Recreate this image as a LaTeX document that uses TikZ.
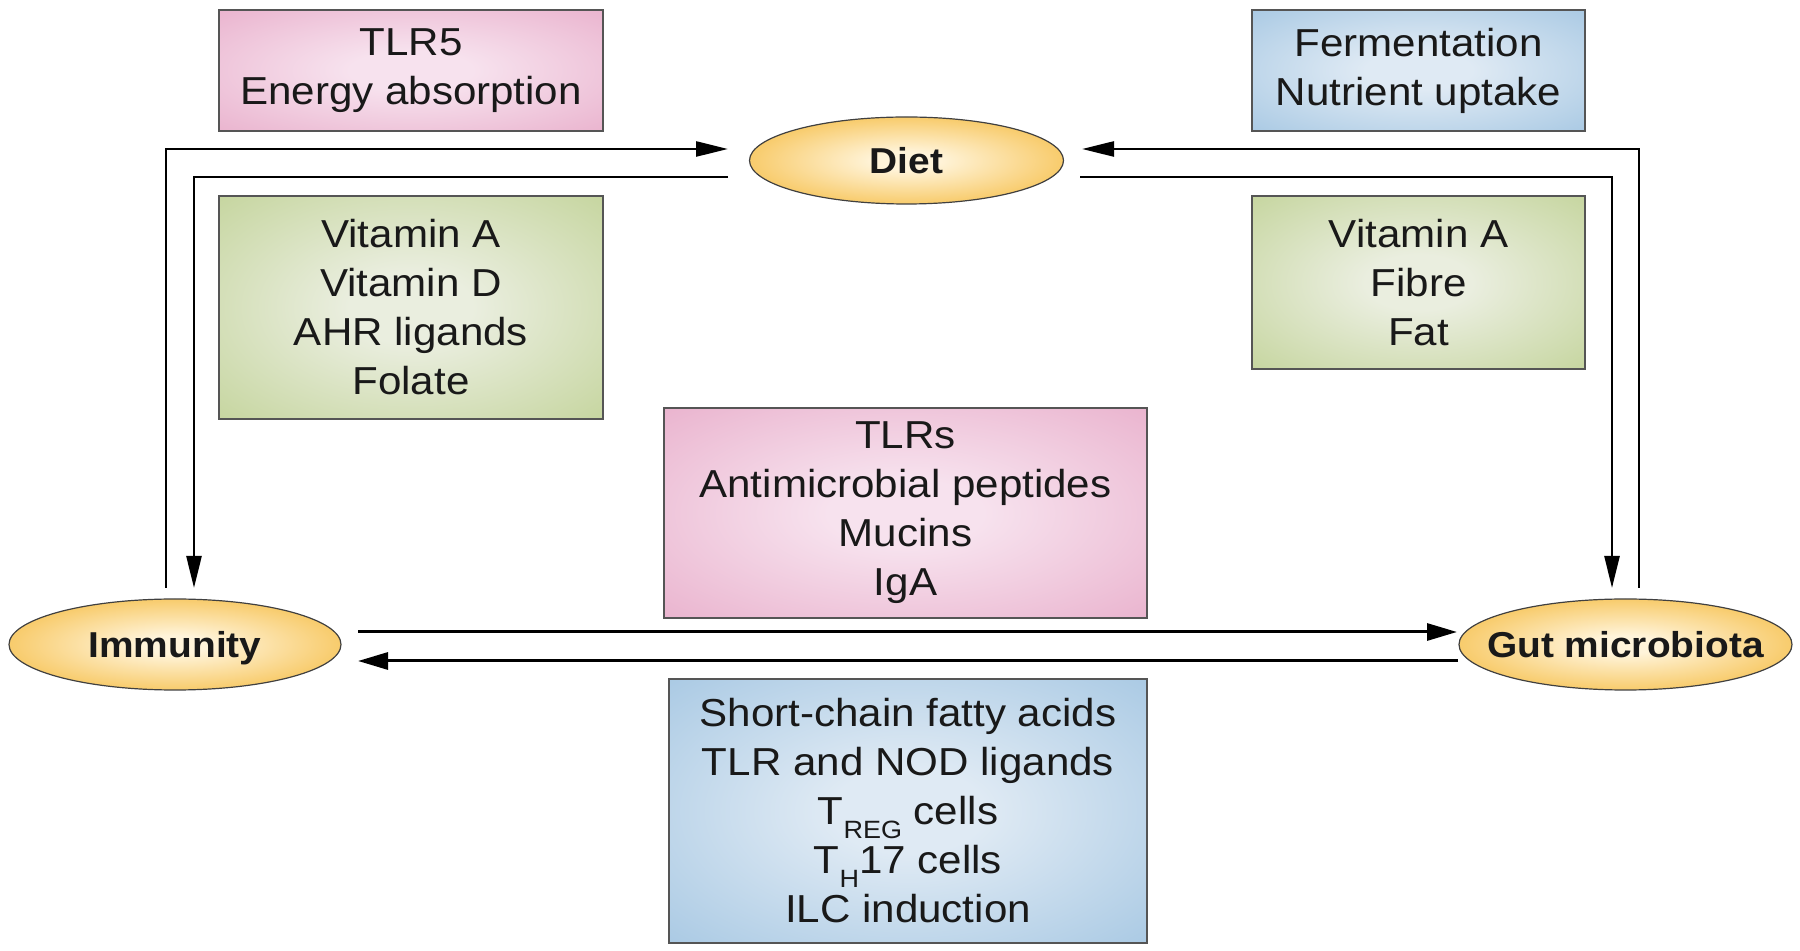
\documentclass[tikz,border=0pt]{standalone}
\usepackage{fontspec}
\setmainfont{Liberation Sans}[FakeStretch=1.08]
\usetikzlibrary{arrows.meta,shapes.geometric}
\definecolor{pinkin}{HTML}{F7E2EE}
\definecolor{pinkout}{HTML}{E6A6C5}
\definecolor{greenin}{HTML}{EAEEDF}
\definecolor{greenout}{HTML}{BBCE8C}
\definecolor{bluein}{HTML}{DFEAF4}
\definecolor{blueout}{HTML}{9AC0DF}
\definecolor{ellin}{HTML}{FFF4DA}
\definecolor{ellout}{HTML}{F4B52F}
\definecolor{edge}{HTML}{555555}
\pgfdeclareradialshading{pinkshade}{\pgfpoint{0bp}{0bp}}{color(0bp)=(pinkin); color(8bp)=(pinkin); color(44bp)=(pinkout); color(100bp)=(pinkout)}
\pgfdeclareradialshading{greenshade}{\pgfpoint{0bp}{0bp}}{color(0bp)=(greenin); color(8bp)=(greenin); color(44bp)=(greenout); color(100bp)=(greenout)}
\pgfdeclareradialshading{blueshade}{\pgfpoint{0bp}{0bp}}{color(0bp)=(bluein); color(8bp)=(bluein); color(44bp)=(blueout); color(100bp)=(blueout)}
\pgfdeclareradialshading{ellshade}{\pgfpoint{0bp}{0bp}}{color(0bp)=(ellin); color(5bp)=(ellin); color(36bp)=(ellout); color(100bp)=(ellout)}
\newcommand{\lowsub}[1]{\raisebox{-7pt}{\fontsize{12.5}{14}\selectfont #1}}
\begin{document}
\begin{tikzpicture}[x=0.5pt,y=-0.5pt,
  box/.style={rectangle, draw=edge, line width=0.75pt, inner sep=0pt, align=center,
    font=\fontsize{19.5}{24.5}\selectfont, text=black!90},
  pinkbox/.style={box, shading=pinkshade},
  greenbox/.style={box, shading=greenshade},
  bluebox/.style={box, shading=blueshade},
  oval/.style={ellipse, draw=black!75, line width=0.6pt, inner sep=0pt, shading=ellshade,
    text depth=0pt, font=\bfseries\fontsize{18}{20}\selectfont, text=black!90},
  arr/.style={line width=1.25pt, -{Triangle[length=16pt,width=7.5pt]}},
  arrh/.style={line width=1.5pt, -{Triangle[length=15pt,width=8.5pt]}}]
\useasboundingbox (0,0) rectangle (1800,951);

% nodes
\node[pinkbox, minimum width=192pt, minimum height=60.5pt] (tlr5) at (411,70.5) {TLR5\\Energy absorption};
\node[bluebox, minimum width=166.5pt, minimum height=60.5pt] (ferm) at (1418.5,70.5) {Fermentation\\Nutrient uptake};
\node[greenbox, minimum width=192pt, minimum height=111.5pt] (vitL) at (411,307.5) {Vitamin A\\Vitamin D\\AHR ligands\\Folate};
\node[greenbox, minimum width=166.5pt, minimum height=86.5pt] (vitR) at (1418.5,282.5) {Vitamin A\\Fibre\\Fat};
\node[pinkbox, minimum width=241.5pt, minimum height=105pt] (tlrs) at (905.5,513) {TLRs\\Antimicrobial peptides\\Mucins\\IgA};
\node[bluebox, minimum width=239pt, minimum height=132pt] (scfa) at (908,811) {Short-chain fatty acids\\TLR and NOD ligands\\T\lowsub{REG} cells\\T\lowsub{H}17 cells\\ILC induction};

\node[oval, minimum width=157pt, minimum height=43.5pt] (diet) at (906.5,160.5) {\makebox[0pt]{Diet}};
\node[oval, minimum width=166pt, minimum height=45.5pt] (imm) at (175,644.5) {\makebox[0pt]{Immunity}};
\node[oval, minimum width=166.5pt, minimum height=45.5pt] (gut) at (1625.5,644.5) {\makebox[0pt]{Gut microbiota}};

% connector end points
\coordinate (immUp) at (166,588);
\coordinate (dietInL) at (728,149);
\coordinate (dietOutL) at (728,177);
\coordinate (immIn) at (194,588);
\coordinate (dietOutR) at (1080,177);
\coordinate (gutIn) at (1612,588);
\coordinate (gutUp) at (1639,588);
\coordinate (dietInR) at (1082,149);
\coordinate (immR1) at (358,632);
\coordinate (gutL1) at (1457,632);
\coordinate (gutL2) at (1458,661);
\coordinate (immR2) at (358,661);

% connectors
\draw[arr] (immUp) |- (dietInL);
\draw[arr] (dietOutL) -| (immIn);
\draw[arr] (dietOutR) -| (gutIn);
\draw[arr] (gutUp) |- (dietInR);
\draw[arrh] (immR1) -- (gutL1);
\draw[arrh] (gutL2) -- (immR2);
\end{tikzpicture}
\end{document}
